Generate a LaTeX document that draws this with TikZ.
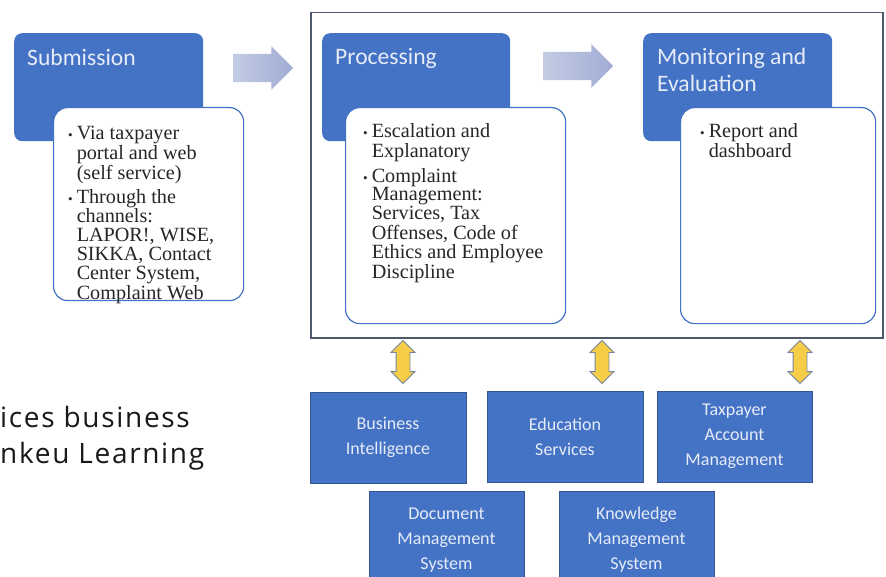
\documentclass[tikz,border=0pt]{standalone}
\usepackage{fontspec}
\setmainfont{Liberation Serif}
\newfontfamily\calibfont{Carlito}
\newfontfamily\sidefont[LetterSpace=6]{Open Sans}
\usepackage{xcolor}
\usetikzlibrary{shapes.arrows, positioning}

\definecolor{boxblue}{RGB}{68,114,196}
\definecolor{boxtext}{RGB}{230,236,248}
\definecolor{framegray}{RGB}{78,88,108}
\definecolor{linkyellow}{RGB}{245,205,70}
\definecolor{linkedge}{RGB}{120,132,160}
\definecolor{flowlight}{RGB}{196,204,228}
\definecolor{flowdark}{RGB}{160,172,212}

\begin{document}
\begin{tikzpicture}[
    x=1pt, y=-1pt,
    stagebox/.style={rectangle, fill=boxblue, rounded corners=8, anchor=north west, inner sep=0, minimum height=108},
    stagetitle/.style={anchor=base west, inner sep=0, align=left, text=boxtext, font=\calibfont\fontsize{23.6}{27}\selectfont},
    notebox/.style={rectangle, draw=boxblue, line width=1.2, fill=white, rounded corners=14, anchor=north west, inner sep=0},
    notetext/.style={anchor=base west, inner sep=0, text=black!85, font=\fontsize{20.2}{18.3}\selectfont},
    sysbox/.style={rectangle, fill=boxblue, draw=boxblue!75!black, line width=0.8, minimum width=156, minimum height=91, align=center, text=boxtext, font=\calibfont\fontsize{18}{25}\selectfont},
    flowarrow/.style={single arrow, single arrow head extend=7.5, single arrow head indent=0, inner xsep=0, inner ysep=14, left color=flowlight, right color=flowdark, draw=none},
    linkarrow/.style={double arrow, double arrow head extend=5, inner xsep=0, inner ysep=6.5, minimum height=43, rotate=90, fill=linkyellow, draw=linkedge, line width=0.9},
]
    \useasboundingbox (0,0) rectangle (886,577);
    \clip (0,0) rectangle (886,577);
    \fill[white] (0,0) rectangle (886,577);

    \node[rectangle, draw=framegray, line width=1.5, anchor=north west, minimum width=572, minimum height=325] (core) at (310,12) {};

    \node[flowarrow, minimum height=60] (flowA) at (256,68) {};
    \node[flowarrow, minimum height=70] (flowB) at (571,66) {};

    \node[stagebox, minimum width=189] (subm) at (14,33) {};
    \node[stagebox, minimum width=188] (proc) at (322,33) {};
    \node[stagebox, minimum width=189] (moni) at (643,33) {};

    \node[stagetitle] (submT) at ([shift={(13,33)}]subm.north west) {Submission};
    \node[stagetitle] (procT) at ([shift={(13,32)}]proc.north west) {Processing};
    \node[stagetitle] (moniT) at ([shift={(14,59)}]moni.north west) {Monitoring and\\Evaluation};

    \node[notebox, minimum width=190, minimum height=193] (submN) at (53,107) {};
    \node[notebox, minimum width=220, minimum height=216] (procN) at (345,107) {};
    \node[notebox, minimum width=195, minimum height=216] (moniN) at (680,107) {};

    \node[notetext] (submL) at ([shift={(15,33)}]submN.north west) {\begin{tabular}[t]{@{}l@{\hspace{4pt}}l@{}}
        {\fontsize{13}{13}\selectfont\textbullet} & Via taxpayer\\
         & portal and web\\
         & (self service)\\[4.7pt]
        {\fontsize{13}{13}\selectfont\textbullet} & Through the\\
         & channels:\\
         & LAPOR!, WISE,\\
         & SIKKA, Contact\\
         & Center System,\\
         & Complaint Web
    \end{tabular}};
    \node[notetext] (procL) at ([shift={(18,31)}]procN.north west) {\begin{tabular}[t]{@{}l@{\hspace{4pt}}l@{}}
        {\fontsize{13}{13}\selectfont\textbullet} & Escalation and\\
         & Explanatory\\[5pt]
        {\fontsize{13}{13}\selectfont\textbullet} & Complaint\\
         & Management:\\
         & Services, Tax\\
         & Offenses, Code of\\
         & Ethics and Employee\\
         & Discipline
    \end{tabular}};
    \node[notetext] (moniL) at ([shift={(20,31)}]moniN.north west) {\begin{tabular}[t]{@{}l@{\hspace{4pt}}l@{}}
        {\fontsize{13}{13}\selectfont\textbullet} & Report and\\
         & dashboard
    \end{tabular}};

    \node[linkarrow] (linkA) at (403,362) {};
    \node[linkarrow] (linkB) at (602,362) {};
    \node[linkarrow] (linkC) at (800,362) {};

    \node[sysbox] (bi) at (388,437.5) {Business\\Intelligence};
    \node[sysbox] (edu) at (565,436.5) {Education\\Services};
    \node[sysbox, minimum width=155] (tax) at (734.5,436.5) {Taxpayer\\Account\\Management};
    \node[sysbox, minimum width=155, minimum height=97] (dms) at (446.5,540) {Document\\Management\\System};
    \node[sysbox, minimum width=155, minimum height=97] (kms) at (636.5,540) {Knowledge\\Management\\System};

    \node[anchor=base west, inner sep=0, align=left, text=black!90, font=\sidefont\fontsize{28}{36}\selectfont] (side) at (0,463) {ices business\\nkeu Learning};
\end{tikzpicture}
\end{document}
